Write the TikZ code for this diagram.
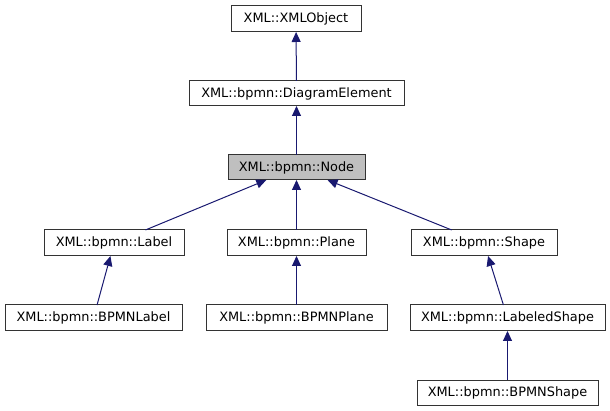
\documentclass[tikz,border=0pt]{standalone}
\usepackage{fontspec}
\setmainfont{DejaVu Sans}
\usetikzlibrary{arrows.meta}
\definecolor{edgeblue}{RGB}{25,25,112}
\definecolor{nodegray}{RGB}{191,191,191}
\tikzset{
  cls/.style={draw=black!80, line width=1pt, fill=white, inner sep=0pt, outer sep=0pt, font=\fontsize{12.9}{15}\selectfont, anchor=center},
  edge/.style={draw=edgeblue, line width=1pt, {Triangle[length=10pt,width=9pt]}-},
}
\newcommand{\clsbox}[6]{% name, x1, y1, x2, y2, text
  \node[cls, minimum width={(#4-#2)*1pt}, minimum height={(#5-#3)*1pt}] (#1) at ({(#2+#4)/2},{(#3+#5)/2}) {#6};}
\begin{document}
\begin{tikzpicture}[x=1pt,y=-1pt]
\useasboundingbox (0,0) rectangle (610,411);
\clsbox{xmlobj}{231}{6}{361}{32}{XML::XMLObject}
\clsbox{diag}{189}{81}{404}{106}{XML::bpmn::DiagramElement}
\node[cls, fill=nodegray, minimum width=137pt, minimum height=25pt] (node) at (296.5,167.5) {XML::bpmn::Node};
\clsbox{label}{44}{230}{184}{256}{XML::bpmn::Label}
\clsbox{plane}{227}{230}{366}{256}{XML::bpmn::Plane}
\clsbox{shape}{411}{230}{557}{256}{XML::bpmn::Shape}
\clsbox{bpmnlabel}{5}{305}{182}{331}{XML::bpmn::BPMNLabel}
\clsbox{bpmnplane}{206}{305}{387}{331}{XML::bpmn::BPMNPlane}
\clsbox{labshape}{410}{305}{605}{331}{XML::bpmn::LabeledShape}
\clsbox{bpmnshape}{417}{380}{598}{405}{XML::bpmn::BPMNShape}
\draw[edge] (xmlobj) -- (diag);
\draw[edge] (diag) -- (node);
\draw[edge] (node) -- (label);
\draw[edge] (node) -- (plane);
\draw[edge] (node) -- (shape);
\draw[edge] (label) -- (bpmnlabel);
\draw[edge] (plane) -- (bpmnplane);
\draw[edge] (shape) -- (labshape);
\draw[edge] (labshape) -- (bpmnshape);
\end{tikzpicture}
\end{document}
